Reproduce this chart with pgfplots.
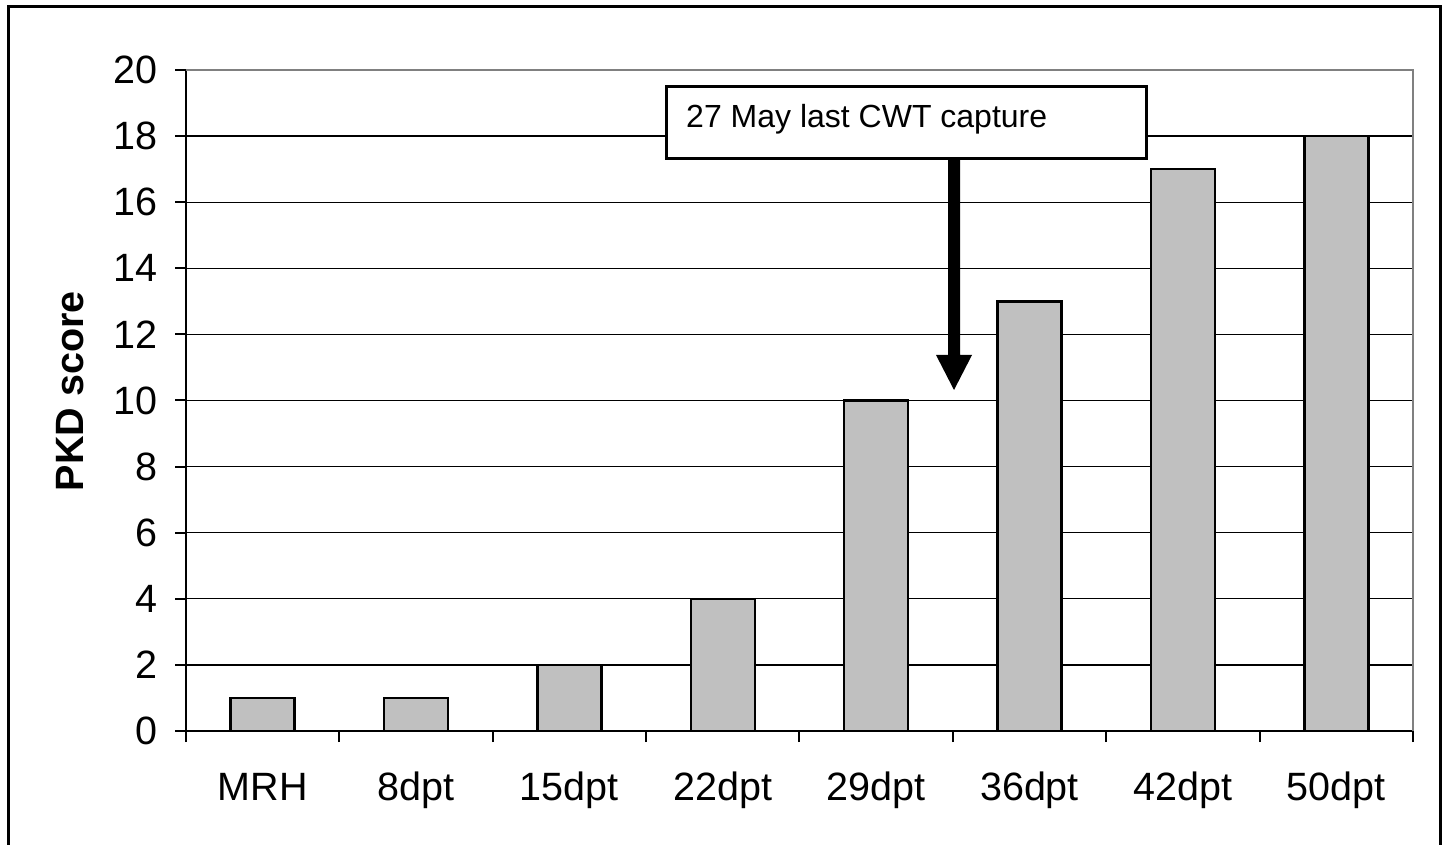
\documentclass[border=0pt]{standalone}
\usepackage{pgfplots}
\pgfplotsset{compat=1.18}
\usepackage{fontspec}
\setmainfont{Liberation Sans}
\definecolor{barfill}{HTML}{C0C0C0}
\definecolor{frameg}{HTML}{808080}
\begin{document}
\begin{tikzpicture}[x=1pt,y=1pt]
\useasboundingbox (0,0) rectangle (1447,844);
\draw[line width=3pt] (8,-5) -- (8,837) -- (1440,837) -- (1440,-5);
\begin{axis}[
  at={(186pt,113pt)}, anchor=south west,
  scale only axis, width=1227pt, height=661pt,
  xmin=-0.5, xmax=7.5, ymin=0, ymax=20,
  ytick={0,2,...,20},
  xtick={0,...,7},
  xticklabels={MRH,8dpt,15dpt,22dpt,29dpt,36dpt,42dpt,50dpt},
  minor xtick={-0.5,0.5,...,7.5},
  major x tick style={draw=none},
  tick align=outside,
  major tick length=11pt, minor tick length=11pt,
  tick style={line width=2pt, black},
  axis lines*=left,
  axis line style={line width=2.5pt, black},
  ymajorgrids, grid style={line width=1.3pt, black},
  font=\fontsize{39.5}{44}\selectfont,
  /pgf/number format/assume math mode=true,
  xticklabel style={anchor=north, inner sep=0pt, text height=28pt, text depth=8pt, yshift=-30pt},
  yticklabel style={anchor=east, inner sep=0pt, xshift=-17pt},
  ylabel={\bfseries PKD score},
  every axis y label/.style={at={(axis description cs:-0.0945,0.514)}, rotate=90, anchor=center, font=\fontsize{39.5}{44}\selectfont},
  clip=false,
]
\addplot[ybar, bar width=64pt, fill=barfill, draw=black, line width=2.5pt] coordinates {
  (0,1) (1,1) (2,2) (3,4) (4,10) (5,13) (6,17) (7,18)
};
\draw[frameg, line width=2.5pt] (rel axis cs:0,1) -- (rel axis cs:1,1) -- (rel axis cs:1,0);
\end{axis}
\draw[line width=3pt, fill=white] (666,685) rectangle (1146,757);
\node[anchor=base west, inner sep=0pt, font=\fontsize{32}{36}\selectfont] at (686,716) {27 May last CWT capture};
\fill[black] (948,685) -- (960,685) -- (960,489) -- (972,489) -- (954,454) -- (936,489) -- (948,489) -- cycle;
\end{tikzpicture}
\end{document}
